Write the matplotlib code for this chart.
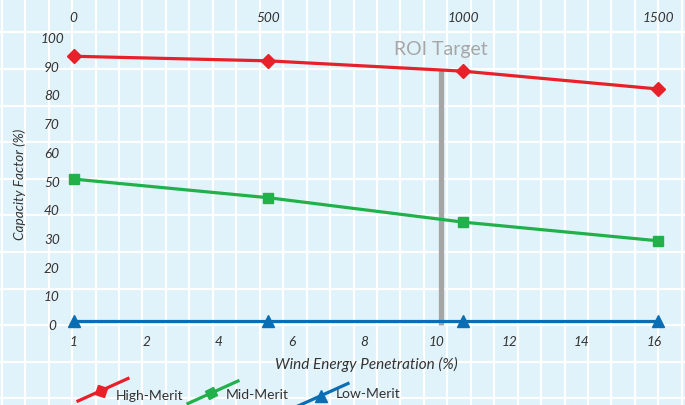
import numpy as np
import matplotlib
matplotlib.use("Agg")
import matplotlib.pyplot as plt
from matplotlib.markers import MarkerStyle
from matplotlib.transforms import Affine2D

# wind capacity (MW) on top axis, penetration (%) labels on bottom axis
wind_mw = [0, 500, 1000, 1500]
high_merit = [93.3, 91.7, 88.1, 81.9]
mid_merit = [50.5, 44.0, 35.5, 29.0]
low_merit = [1.2, 1.2, 1.2, 1.2]

top_ticks = [0, 500, 1000, 1500]
pen_labels = ["1", "2", "4", "6", "8", "10", "12", "14", "16"]
pen_pos = np.linspace(0, 1490, len(pen_labels))

roi_mw = 943
roi_top = 88.8

series_names = ["High-Merit", "Mid-Merit", "Low-Merit"]
colors = ["#e8202a", "#22b04b", "#0a6eb4"]
markers = ["D", "s", "^"]
msizes = [7.5, 6.8, 9]

bg = "#e1f3fa"
txt = "#333333"
plt.rcParams["font.family"] = ["Lato", "DejaVu Sans"]

W, H = 685, 406
fig = plt.figure(figsize=(W / 100, H / 100), dpi=100, facecolor=bg)

# graph-paper background
bgax = fig.add_axes([0, 0, 1, 1], zorder=0)
bgax.set_xlim(0, W)
bgax.set_ylim(H, 0)
bgax.set_facecolor(bg)
bgax.axis("off")
for gx in np.arange(1.8, W, 23.45):
    bgax.axvline(gx, color="white", lw=1.5)
for gy in np.arange(33.3, H, 36.6):
    bgax.axhline(gy, color="white", lw=1.5)

# main axes
L, R, T, B = 60, 672, 30, 330
ax = fig.add_axes([L / W, 1 - B / H, (R - L) / W, (B - T) / H], zorder=2)
ax.set_facecolor("none")
for s in ax.spines.values():
    s.set_visible(False)
ax.set_xlim(-35.2, 1536)
ax.set_ylim(-1.74, 102.8)

for y, c, m, ms in zip([high_merit, mid_merit, low_merit], colors, markers, msizes):
    ax.plot(wind_mw, y, color=c, lw=2.3, marker=m, ms=ms, mec=c, mfc=c, zorder=4,
            clip_on=False)

ax.plot([roi_mw, roi_mw], [-0.5, roi_top], color="#a6a6a6", lw=3.8, zorder=3,
        solid_capstyle="butt")
ax.text(roi_mw, 94, "ROI Target", color="#a6a6a6", fontsize=14,
        ha="center", va="baseline")

ax.set_yticks(np.arange(0, 101, 10))
ax.tick_params(axis="y", length=0, pad=5.8, labelsize=9.8, labelcolor=txt)
for lab in ax.get_yticklabels():
    lab.set_ha("center")
    lab.set_style("italic")

ax.set_xticks(pen_pos)
ax.set_xticklabels(pen_labels, style="italic")
ax.tick_params(axis="x", length=0, pad=4, labelsize=9.8, labelcolor=txt)

ax2 = ax.twiny()
for s in ax2.spines.values():
    s.set_visible(False)
ax2.set_xlim(ax.get_xlim())
ax2.set_xticks(top_ticks)
ax2.set_xticklabels([str(t) for t in top_ticks], style="italic")
ax2.tick_params(axis="x", length=0, pad=4.5, labelsize=9.8, labelcolor=txt)

ax.set_xlabel("Wind Energy Penetration (%)", fontsize=11, style="italic",
              color=txt, va="center")
ax.xaxis.set_label_coords((366 - L) / (R - L), (B - 364) / (B - T))
ax.set_ylabel("Capacity Factor (%)", fontsize=9.8, style="italic",
              color=txt, va="center")
ax.yaxis.set_label_coords((20 - L) / (R - L), (B - 184) / (B - T))

# legend with slanted handles
x0, step = 78, 110
ang = 24
for i, (name, c, m, ms) in enumerate(zip(series_names, colors, markers, msizes)):
    xs = x0 + i * step
    ys = 402 + i * 2.5
    dx, dy = 50, 22.5
    bgax.plot([xs, xs + dx], [ys, ys - dy], color=c, lw=2.3, zorder=5)
    rot = ang if m != "^" else 0
    mk = MarkerStyle(m, transform=Affine2D().rotate_deg(rot))
    bgax.plot([xs + dx * 0.46], [ys - dy * 0.46], marker=mk, ms=ms * 0.9, color=c,
              zorder=6, ls="none")
    bgax.text(xs + 38, 396 - i * 1, name, fontsize=10, color=txt,
              ha="left", va="center")

fig.savefig("out.png", dpi=100, facecolor=bg)
